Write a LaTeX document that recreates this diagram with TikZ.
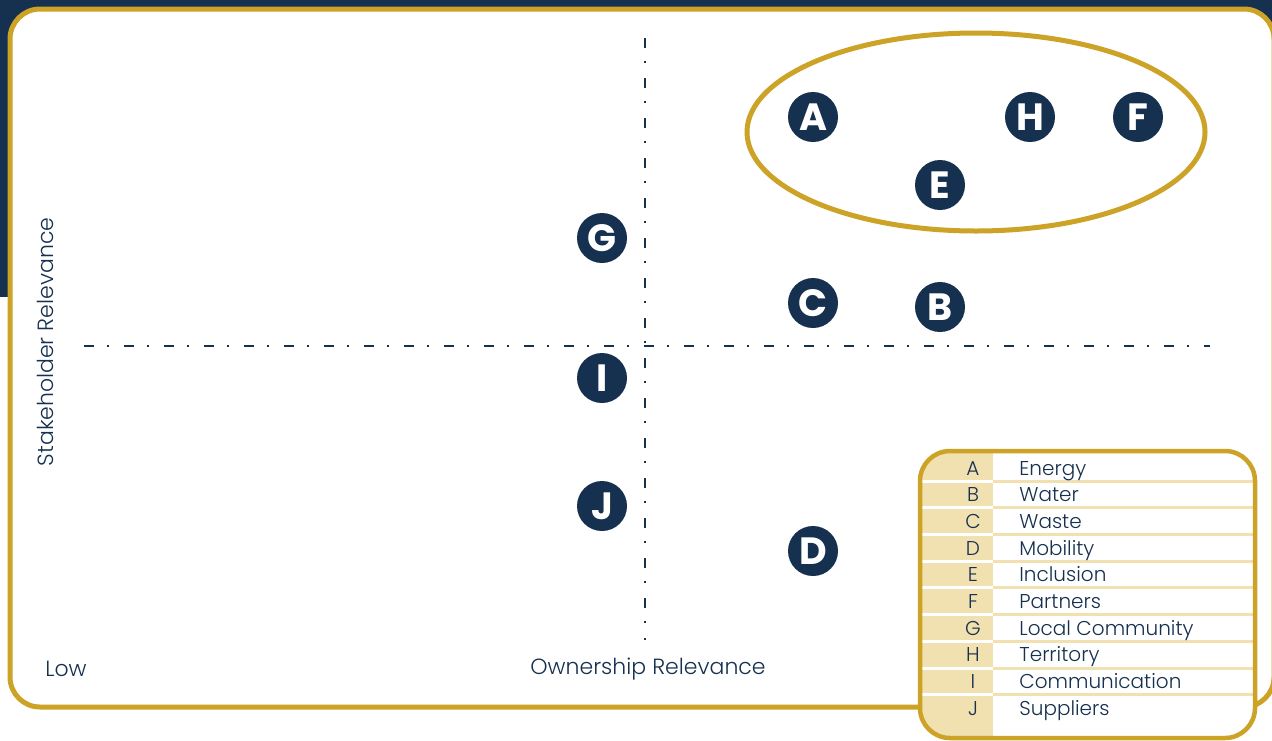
\documentclass[tikz,border=0pt]{standalone}
\usepackage{fontspec}
\setmainfont{Poppins}[UprightFont=* Light, BoldFont=* Bold]
\usepackage{tikz}
\usetikzlibrary{shapes.geometric}
\definecolor{navy}{HTML}{16304F}
\definecolor{gold}{HTML}{CCA326}
\definecolor{sand}{HTML}{F1E0B0}

\tikzset{
  topic/.style={circle, fill=navy, text=white, minimum size=25pt, inner sep=0pt,
    font=\fontsize{19}{19}\selectfont\bfseries},
  quadrant/.style={navy, line width=1.25pt, dash pattern=on 5pt off 6.5pt on 1pt off 7.5pt},
  axislabel/.style={text=navy, inner sep=0pt, font=\fontsize{11}{12}\selectfont},
  legendkey/.style={text=navy, inner sep=0pt, anchor=base, font=\fontsize{10}{12}\selectfont},
  legendname/.style={text=navy, inner sep=0pt, anchor=base west, font=\fontsize{10}{12}\selectfont},
}

\begin{document}
\begin{tikzpicture}[x=0.5pt, y=-0.5pt]
  \useasboundingbox (0,0) rectangle (1272,740);

  % header band and card
  \fill[navy] (0,0) rectangle (1272,297);
  \draw[gold, line width=2.5pt, fill=white, rounded corners=15pt] (10,9) rectangle (1274,707);

  % quadrant axes
  \coordinate (vtop) at (645,38);
  \coordinate (vbot) at (645,640);
  \coordinate (hleft) at (84,346);
  \coordinate (hright) at (1210,346);
  \draw[quadrant] (vtop) -- (vbot);
  \draw[quadrant] (hleft) -- (hright);

  \node[axislabel, rotate=90] (ylab) at (45,342) {Stakeholder Relevance};
  \node[axislabel] (low) at (66,669) {Low};
  \node[axislabel] (xlab) at (648,669) {Ownership Relevance};

  % material topics
  \node[topic] (A) at (813,117) {A};
  \node[topic] (B) at (940,307) {B};
  \node[topic] (C) at (813,303) {C};
  \node[topic] (D) at (813,551) {D};
  \node[topic] (E) at (940,185) {E};
  \node[topic] (F) at (1138,117) {F};
  \node[topic] (G) at (602,238) {G};
  \node[topic] (H) at (1030,117) {H};
  \node[topic] (I) at (602,378) {I};
  \node[topic] (J) at (602,506) {J};

  % priority group
  \node[ellipse, draw=gold, line width=2.5pt, minimum width=229pt, minimum height=99pt] (priority) at (976,132) {};

  % legend table
  \fill[white, rounded corners=15pt] (920,451) rectangle (1255,738);
  \begin{scope}
    \clip[rounded corners=15pt] (920,451) rectangle (1255,738);
    \fill[sand] (920,451) rectangle (993,738);
    \foreach \i in {0,...,8} {
      \draw[white, line width=1.5pt] (920,481.3+26.67*\i) -- (993,481.3+26.67*\i);
      \draw[sand, line width=1.5pt] (993,481.3+26.67*\i) -- (1255,481.3+26.67*\i);
    }
  \end{scope}
  \draw[gold, line width=2.25pt, rounded corners=15pt] (920,451) rectangle (1255,738);

  \foreach \key/\name [count=\i from 0] in {A/Energy, B/Water, C/Waste, D/Mobility,
      E/Inclusion, F/Partners, G/Local Community, H/Territory, I/Communication, J/Suppliers} {
    \node[legendkey] (key\key) at (973,475+26.67*\i) {\key};
    \node[legendname] (name\key) at (1019,475+26.67*\i) {\name};
  }
\end{tikzpicture}
\end{document}
